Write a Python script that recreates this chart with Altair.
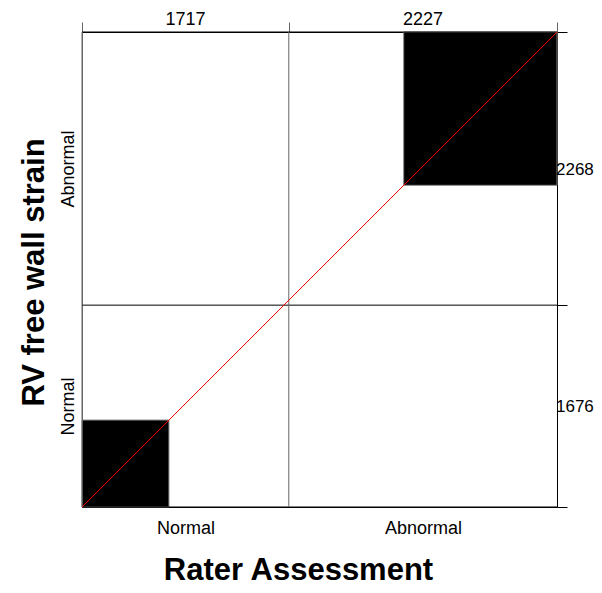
import altair as alt
import pandas as pd

# Categories (same for both raters)
categories = ["Normal", "Abnormal"]
# Contingency table: rows = RV free wall strain (y), columns = Rater Assessment (x)
counts = [[722, 954],
          [995, 1273]]

K = len(categories)
col_totals = [sum(counts[i][j] for i in range(K)) for j in range(K)]
row_totals = [sum(counts[i][j] for j in range(K)) for i in range(K)]
total = sum(col_totals)

cum_col = [0]
for c in col_totals:
    cum_col.append(cum_col[-1] + c)
cum_row = [0]
for r in row_totals:
    cum_row.append(cum_row[-1] + r)

col_mid = [(cum_col[k] + cum_col[k + 1]) / 2 for k in range(K)]
row_mid = [(cum_row[k] + cum_row[k + 1]) / 2 for k in range(K)]

# agreement squares
sq = []
for k in range(K):
    x0 = cum_col[k] + sum(counts[i][k] for i in range(k))
    y0 = cum_row[k] + sum(counts[k][j] for j in range(k))
    sq.append({"x": x0, "x2": x0 + counts[k][k], "y": y0, "y2": y0 + counts[k][k]})
sq_df = pd.DataFrame(sq)

hrules = pd.DataFrame({"y": cum_row, "x": [0] * len(cum_row), "x2": [total] * len(cum_row)})
vrules = pd.DataFrame({"x": cum_col[:-1], "y": [0] * K, "y2": [total] * K})
diag = pd.DataFrame({"x": [0, total], "y": [0, total]})
top_txt = pd.DataFrame({"x": col_mid, "y": [total] * K, "t": [str(v) for v in col_totals]})
right_txt = pd.DataFrame({"x": [total] * K, "y": row_mid, "t": [str(v) for v in row_totals]})

FONT = "Liberation Sans"
sc = alt.Scale(domain=[0, total], nice=False, zero=False, padding=0)


def label_expr(mids):
    expr = "''"
    for m, c in zip(mids, categories):
        expr = f"abs(datum.value - {m}) < 1 ? '{c}' : ({expr})"
    return expr


x_bottom = alt.Axis(orient="bottom", values=col_mid, labelExpr=label_expr(col_mid),
                    ticks=False, grid=False, domain=True, domainColor="#000000",
                    labelFont=FONT, labelFontSize=18, labelColor="#000000",
                    labelPadding=12, labelBaseline="top",
                    title="Rater Assessment", titleFont=FONT, titleFontSize=31,
                    titleFontWeight="bold", titleColor="#000000",
                    titleX=216, titleY=72, titleBaseline="alphabetic")
y_left = alt.Axis(orient="left", values=row_mid, labelExpr=label_expr(row_mid),
                  ticks=False, grid=False, domain=True, domainColor="#666666",
                  labelFont=FONT, labelFontSize=18, labelColor="#000000",
                  labelAngle=270, labelAlign="center", labelBaseline="bottom",
                  labelPadding=5,
                  title="RV free wall strain", titleFont=FONT, titleFontSize=31,
                  titleFontWeight="bold", titleColor="#000000",
                  titleX=-39, titleY=240, titleBaseline="alphabetic", titleAngle=270)
x_top = alt.Axis(orient="top", values=cum_col, labels=False, ticks=True, tickSize=10,
                 tickColor="#666666", grid=False, domain=True, domainColor="#000000",
                 title=None)
y_right = alt.Axis(orient="right", values=cum_row, labels=False, ticks=True, tickSize=10,
                   tickColor="#000000", grid=False, domain=True, domainColor="#000000",
                   title=None)

squares = alt.Chart(sq_df).mark_rect(color="#000000", stroke="#888888", strokeWidth=1).encode(
    x=alt.X("x:Q", scale=sc, axis=x_bottom),
    x2="x2:Q",
    y=alt.Y("y:Q", scale=sc, axis=y_left),
    y2="y2:Q",
)

h = alt.Chart(hrules).mark_rule(color="#000000", strokeWidth=1).encode(
    x=alt.X("x:Q", scale=sc, axis=x_top),
    x2="x2:Q",
    y=alt.Y("y:Q", scale=sc, axis=None),
)

v = alt.Chart(vrules).mark_rule(color="#666666", strokeWidth=1).encode(
    x=alt.X("x:Q", scale=sc, axis=None),
    y=alt.Y("y:Q", scale=sc, axis=y_right),
    y2="y2:Q",
)

line = alt.Chart(diag).mark_line(color="#ff0000", strokeWidth=1).encode(
    x=alt.X("x:Q", scale=sc, axis=None),
    y=alt.Y("y:Q", scale=sc, axis=None),
)

ttop = alt.Chart(top_txt).mark_text(font=FONT, fontSize=18, color="#000000",
                                    align="center", baseline="alphabetic", dy=-7).encode(
    x=alt.X("x:Q", scale=sc, axis=None),
    y=alt.Y("y:Q", scale=sc, axis=None),
    text="t:N",
)

tright = alt.Chart(right_txt).mark_text(font=FONT, fontSize=17, color="#000000",
                                        align="left", baseline="middle", dx=-1, dy=1).encode(
    x=alt.X("x:Q", scale=sc, axis=None),
    y=alt.Y("y:Q", scale=sc, axis=None),
    text="t:N",
)

chart = alt.layer(squares, h, v, line, ttop, tright).resolve_axis(
    x="independent", y="independent"
).properties(
    width=475, height=475,
    padding={"left": 74, "top": 24, "right": 37, "bottom": 78},
    autosize=alt.AutoSizeParams(type="none"),
    background="#ffffff",
).configure_view(strokeOpacity=0)

chart.save("out.html", embed_options={"renderer": "svg", "actions": False})
